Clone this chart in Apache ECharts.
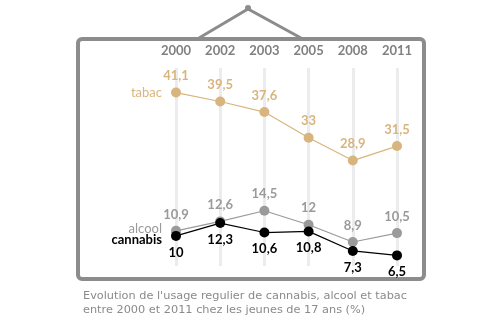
<!DOCTYPE html>
<html><head><meta charset="utf-8">
<script src="https://cdn.jsdelivr.net/npm/echarts@6/dist/echarts.min.js"></script>
<style>html,body{margin:0;padding:0;background:#fff}#c{width:500px;height:321px}</style>
</head><body><div id="c"></div>
<script>
var years = ['2000','2002','2003','2005','2008','2011'];
var tabac = [41.1, 39.5, 37.6, 33, 28.9, 31.5];
var alcool = [10.9, 12.6, 14.5, 12, 8.9, 10.5];
var cannabis = [10, 12.3, 10.6, 10.8, 7.3, 6.5];
var captionLines = ["Evolution de l'usage regulier de cannabis, alcool et tabac", "entre 2000 et 2011 chez les jeunes de 17 ans (%)"];

var FONT = 'Lato, "Open Sans", sans-serif';
var fmt = function (p) { return String(p.value).replace('.', ','); };
var TAN = '#d8b57e', GREY = '#9a9a9a', BLACK = '#000';

function nameMark(name, v, color, weight, off) {
  return {
    symbol: 'circle', symbolSize: 0,
    label: { show: true, position: 'left', distance: 14, offset: off || [0, 0], formatter: name, color: color, fontSize: 13, fontWeight: weight, fontFamily: FONT },
    data: [{ coord: [0, v] }]
  };
}

var chart = echarts.init(document.getElementById('c'));
chart.setOption({
  animation: false,
  grid: { left: 176, right: 103, top: 68, bottom: 55 },
  xAxis: {
    type: 'category', data: years, boundaryGap: false, position: 'top',
    axisLine: { show: false }, axisTick: { show: false },
    axisLabel: { color: '#808080', fontSize: 13, fontWeight: 'bold', fontFamily: FONT, margin: 11 },
    splitLine: { show: true, lineStyle: { color: '#eaecee', width: 3 } }
  },
  yAxis: [
    { type: 'value', min: 10, max: 45.5, show: false, splitLine: { show: false } },
    { type: 'value', min: 4.6, max: 40.1, show: false, splitLine: { show: false } }
  ],
  series: [
    {
      name: 'tabac', type: 'line', yAxisIndex: 0, data: tabac,
      symbol: 'circle', symbolSize: 10, itemStyle: { color: TAN },
      lineStyle: { color: TAN, width: 1.2 },
      label: { show: true, position: 'top', distance: 5, formatter: fmt, color: TAN, fontSize: 13, fontWeight: 'bold', fontFamily: FONT },
      markPoint: nameMark('tabac', tabac[0], TAN, 'normal')
    },
    {
      name: 'alcool', type: 'line', yAxisIndex: 1, data: alcool,
      symbol: 'circle', symbolSize: 10, itemStyle: { color: GREY },
      lineStyle: { color: GREY, width: 1.2 },
      label: { show: true, position: 'top', distance: 5, formatter: fmt, color: GREY, fontSize: 13, fontWeight: 'bold', fontFamily: FONT },
      markPoint: nameMark('alcool', alcool[0], GREY, 'normal', [0, -2])
    },
    {
      name: 'cannabis', type: 'line', yAxisIndex: 1, data: cannabis,
      symbol: 'circle', symbolSize: 10, itemStyle: { color: BLACK }, z: 3,
      lineStyle: { color: BLACK, width: 1.2 },
      label: { show: true, position: 'bottom', distance: 5, formatter: fmt, color: BLACK, fontSize: 13, fontWeight: 'bold', fontFamily: FONT },
      markPoint: nameMark('cannabis', cannabis[0], BLACK, 'bold', [0, 4])
    }
  ],
  graphic: [
    { type: 'rect', shape: { x: 78, y: 39, width: 346, height: 240, r: 4 }, style: { fill: 'none', stroke: '#8c8c8c', lineWidth: 4 }, z: -1 },
    { type: 'polyline', shape: { points: [[199, 38], [248, 9], [301, 38]] }, style: { fill: 'none', stroke: '#8c8c8c', lineWidth: 3 } },
    { type: 'circle', shape: { cx: 248, cy: 8, r: 3 }, style: { fill: '#8c8c8c' } },
    { type: 'text', left: 83, top: 289, style: { text: captionLines.join('\n'), fill: '#8a8a8a', font: '11.3px "DejaVu Sans", sans-serif', lineHeight: 14 } }
  ]
});
</script></body></html>
